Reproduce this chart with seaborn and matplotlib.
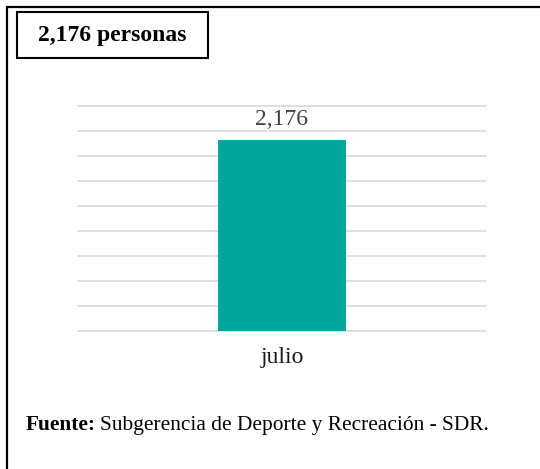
import numpy as np
import pandas as pd
import matplotlib
matplotlib.use("Agg")
import matplotlib.pyplot as plt
from matplotlib.patches import Rectangle
import seaborn as sns

# Data
months = ["julio"]
people = [2176]
title_text = "2,176 personas"
source_bold = "Fuente:"
source_text = "Subgerencia de Deporte y Recreación - SDR."

data = pd.DataFrame({"Mes": months, "Personas": people})

sns.set_theme(style="white")
plt.rcParams["font.family"] = ["Liberation Serif", "DejaVu Serif"]

W, H = 540, 469
fig = plt.figure(figsize=(W / 100, H / 100), dpi=100)
ax = fig.add_axes([78 / W, 1 - 330.7 / H, 408 / W, 225 / H])

sns.barplot(data=data, x="Mes", y="Personas", color="#00A59B", width=0.314,
            saturation=1, linewidth=0, ax=ax, zorder=3)

# axis range: bar reaches ~85% of the gridded height
top = people[0] * 225 / 190.7
ax.set_ylim(0, top)
ax.set_yticks(np.linspace(0, top, 10))
ax.yaxis.grid(True, color="#D9D9D9", linewidth=1.2, zorder=0)
for gl in ax.get_ygridlines():
    gl.set_clip_on(False)
ax.set_axisbelow(True)
ax.set_yticklabels([])
ax.tick_params(axis="both", length=0)
ax.tick_params(axis="x", labelsize=17, labelcolor="#1a1a1a", pad=12)
for s in ax.spines.values():
    s.set_visible(False)
ax.set_xlabel("")
ax.set_ylabel("")

for p, v in zip(ax.patches, people):
    ax.annotate(f"{v:,}", (p.get_x() + p.get_width() / 2, p.get_height()),
                xytext=(0, 7), textcoords="offset points", ha="center",
                va="bottom", fontsize=17, color="#404040")

# outer frame (only top and left edges fall inside the image)
fig.add_artist(Rectangle((7 / W, -0.1), 1.2, 1 - 7 / H + 0.1, transform=fig.transFigure,
                         fill=False, edgecolor="black", linewidth=1.6))
# title box
fig.add_artist(Rectangle((17 / W, 1 - 58 / H), 191 / W, 46 / H, transform=fig.transFigure,
                         fill=False, edgecolor="black", linewidth=1.5))
fig.text(112 / W, 1 - 35 / H, title_text, ha="center", va="center",
         fontsize=17, fontweight="bold", color="black")

# source line
t1 = fig.text(26 / W, 1 - 425 / H, source_bold, ha="left", va="center",
              fontsize=15.4, fontweight="bold", color="black")
fig.canvas.draw()
bb = t1.get_window_extent()
fig.text((bb.x1 + 4) / W, 1 - 425 / H, source_text, ha="left", va="center",
         fontsize=15.4, color="black")

fig.savefig("out.png", dpi=100)
